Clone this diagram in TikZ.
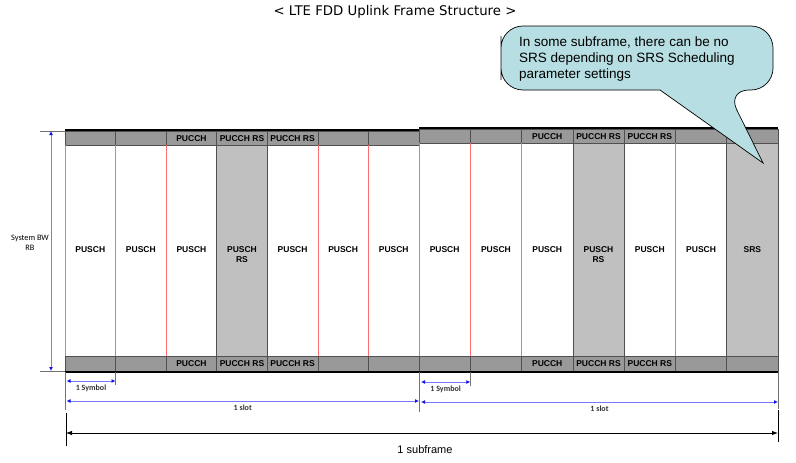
\documentclass[tikz,border=0pt]{standalone}
\usepackage{fontspec}
\setmainfont{Liberation Sans}
\newfontfamily\titlefont{DejaVu Sans}
\newfontfamily\smallfont{Carlito}
\usetikzlibrary{arrows.meta}
\definecolor{bandgray}{RGB}{153,153,153}
\definecolor{rsgray}{RGB}{192,192,192}
\definecolor{gridgray}{RGB}{80,80,80}
\definecolor{sepred}{RGB}{255,110,110}
\definecolor{dimblue}{RGB}{120,120,255}
\definecolor{tipblue}{RGB}{20,20,230}
\definecolor{notecyan}{RGB}{183,222,226}
\tikzset{
  band/.style={fill=bandgray,draw=gridgray,line width=0.7pt},
  rscol/.style={fill=rsgray,draw=gridgray,line width=0.7pt},
  sepln/.style={draw=sepred,line width=0.7pt},
  framer/.style={line width=2pt,black},
  celltxt/.style={font=\fontsize{8.5}{10}\selectfont\bfseries,align=center,inner sep=0pt,anchor=north},
  bandtxt/.style={font=\fontsize{8.5}{10}\selectfont\bfseries,inner sep=0pt},
  dimarr/.style={draw=dimblue,line width=1pt,
    {Latex[length=4pt,width=4pt,color=tipblue]}-{Latex[length=4pt,width=4pt,color=tipblue]}},
  tickln/.style={draw=black!55,line width=0.7pt},
  dimlbl/.style={font=\smallfont\fontsize{8}{9}\selectfont\bfseries,text=black!80,inner sep=1pt},
  sfarr/.style={line width=0.8pt,{Latex[length=6pt,width=4.5pt]}-{Latex[length=6pt,width=4.5pt]}},
  sftick/.style={line width=1pt},
  callout/.style={fill=notecyan,draw=black,line width=0.7pt},
  notetxt/.style={font=\fontsize{13.5}{15.7}\selectfont,align=left,inner sep=0pt,anchor=north west},
}

\begin{document}
\begin{tikzpicture}[x=1pt,y=-1pt]
  \useasboundingbox (0,0) rectangle (796,463);
  \node[font=\titlefont\fontsize{13.3}{15}\selectfont] (title) at (395,12) {< LTE FDD Uplink Frame Structure >};

  % two slots, seven symbols each
  \foreach \s/\xa/\xb/\yt/\gcols/\lastlbl in {A/65/419/131/{4}/PUSCH, B/419/778/129/{4,7}/SRS}{
    \pgfmathsetmacro{\w}{(\xb-\xa)/7}
    \foreach \c in {0,...,7}
      \coordinate (\s-\c) at ({\xa+\c*\w},372);
    \foreach \c in {1,...,7}{
      \draw[band] ({\xa+(\c-1)*\w},\yt) rectangle ({\xa+\c*\w},\yt+14);
      \draw[band] ({\xa+(\c-1)*\w},356) rectangle ({\xa+\c*\w},371);
    }
    \foreach \c in {0,...,7}
      \draw[sepln] ({\xa+\c*\w},\yt+14) -- ({\xa+\c*\w},356);
    \foreach \c in \gcols
      \draw[rscol] ({\xa+(\c-1)*\w},\yt+14) rectangle ({\xa+\c*\w},356);
    \foreach \c/\t in {1/PUSCH,2/PUSCH,3/PUSCH,4/{PUSCH\\RS},5/PUSCH,6/PUSCH,7/\lastlbl}
      \node[celltxt] (\s-txt\c) at ({\xa+(\c-0.5)*\w},246) {\t};
    \foreach \c/\t in {3/PUCCH,4/PUCCH RS,5/PUCCH RS}{
      \node[bandtxt] (\s-up\c) at ({\xa+(\c-0.5)*\w},\yt+7.5) {\t};
      \node[bandtxt] (\s-dn\c) at ({\xa+(\c-0.5)*\w},364) {\t};
    }
    \draw[framer] (\xa,\yt-1) -- (\xb,\yt-1);
    \draw[framer] (\xa,372) -- (\xb,372);
  }

  % bandwidth
  \coordinate (bwT) at (51,131);
  \coordinate (bwB) at (51,371);
  \draw[tickln] ([xshift=-11pt]bwT) -- (bwT -| A-0);
  \draw[tickln] ([xshift=-11pt]bwB) -- (bwB -| A-0);
  \draw[dimarr] (bwT) -- (bwB);
  \node[font=\smallfont\fontsize{8.3}{10}\selectfont,align=center] (bwlbl) at (30,243) {System BW\\RB};

  % symbol and slot lengths
  \draw[tickln] (A-0) -- ++(0,38);
  \draw[tickln] (A-1) -- ++(0,13);
  \draw[tickln] (A-7) -- ++(0,40);
  \draw[tickln] (B-1) -- ++(0,14);
  \draw[tickln] (B-7) -- ++(0,37);
  \draw[dimarr] ([shift={(1.5,9)}]A-0) -- ([shift={(0,9)}]A-1) node[dimlbl,midway,below=2pt] (symA) {1 Symbol};
  \draw[dimarr] ([shift={(1.5,29)}]A-0) -- ([shift={(0,29)}]A-7) node[dimlbl,midway,below=2pt] (slotA) {1 slot};
  \draw[dimarr] ([shift={(2,10)}]B-0) -- ([shift={(0,10)}]B-1) node[dimlbl,midway,below=2pt] (symB) {1 Symbol};
  \draw[dimarr] ([shift={(2,30)}]B-0) -- ([shift={(0,30)}]B-7) node[dimlbl,midway,below=2pt] (slotB) {1 slot};

  % subframe
  \coordinate (sfL) at (66,413);
  \coordinate (sfR) at (778,410);
  \draw[sftick] (sfL) -- ++(0,33);
  \draw[sftick] (sfR) -- ++(0,32);
  \draw[sfarr] ([shift={(0,20)}]sfL) -- ([shift={(0,23)}]sfR);
  \node[font=\fontsize{11}{13}\selectfont] (sflbl) at (425,450) {1 subframe};

  % note on SRS
  \draw[callout] (501,58) [rounded corners=22pt] |- (773,26) |- (727,90) [sharp corners] -- (763,163) -- (660,90) [rounded corners=22pt] -- (501,90) -- cycle;
  \node[notetxt] (note) at (519,37) {In some subframe, there can be no\\SRS depending on SRS Scheduling\\parameter settings};
\end{tikzpicture}
\end{document}
